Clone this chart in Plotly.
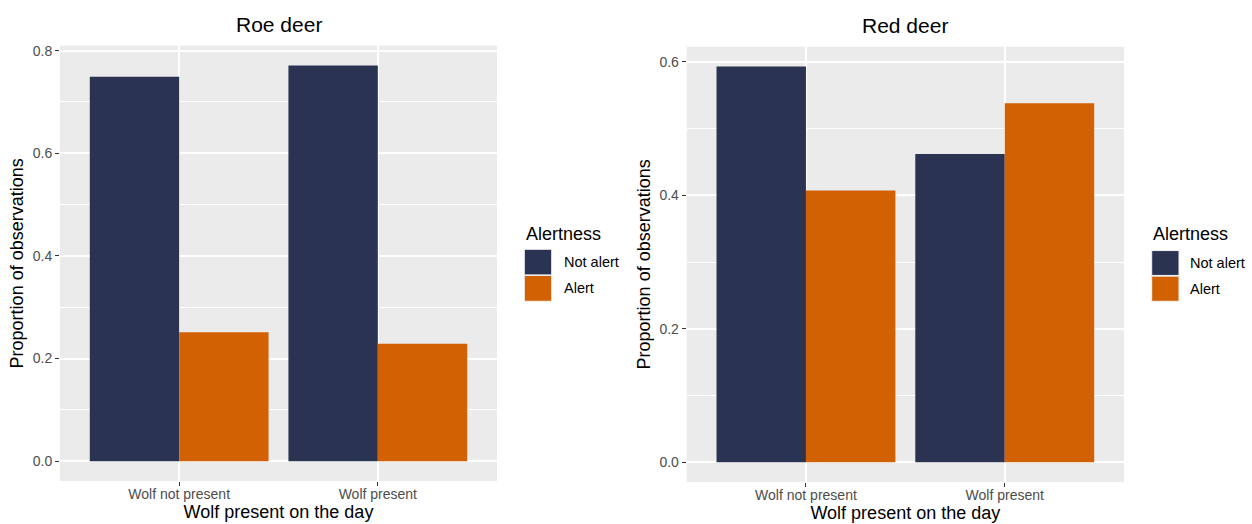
import plotly.graph_objects as go

# ---- data ----
categories = ["Wolf not present", "Wolf present"]
series_names = ["Not alert", "Alert"]
roe_not_alert = [0.749, 0.771]
roe_alert = [0.251, 0.229]
red_not_alert = [0.593, 0.462]
red_alert = [0.407, 0.538]
panel_titles = ["Roe deer", "Red deer"]
y_ticks_roe = [0.0, 0.2, 0.4, 0.6, 0.8]
y_ticks_red = [0.0, 0.2, 0.4, 0.6]

# ---- style ----
W, H = 1252, 524
NAVY = "#2A3352"
ORANGE = "#D16103"
colors = [NAVY, ORANGE]
FONT = "Liberation Sans, Arial, Helvetica, sans-serif"
TICK_COL = "#4D4D4D"


def px_x(p):
    return p / W


def px_y(p):
    return 1 - p / H


fig = go.Figure()

panels = [
    dict(vals=[roe_not_alert, roe_alert], xa="x", ya="y", ticks=y_ticks_roe),
    dict(vals=[red_not_alert, red_alert], xa="x2", ya="y2", ticks=y_ticks_red),
]
for pan in panels:
    for name, vals, col in zip(series_names, pan["vals"], colors):
        fig.add_trace(go.Bar(
            x=categories, y=vals, name=name, marker=dict(color=col, line=dict(width=0)),
            xaxis=pan["xa"], yaxis=pan["ya"], showlegend=False,
        ))

def yrange(vals):
    m = max(max(v) for v in vals)
    return [-0.05 * m, 1.05 * m]

# panel geometry in pixels (left, right, top, bottom)
geo = [(60, 497, 43, 480.7), (686.7, 1124, 44, 481.7)]

common_x = dict(
    type="category", categoryorder="array", categoryarray=categories,
    range=[-0.6, 1.6], showgrid=True, gridcolor="white", gridwidth=1.6,
    ticks="outside", ticklen=4, tickwidth=1, tickcolor="#333333",
    tickfont=dict(family=FONT, size=14, color=TICK_COL), ticklabelstandoff=-4,
    showline=False, zeroline=False,
    title=dict(text="Wolf present on the day", font=dict(family=FONT, size=18, color="black"), standoff=0),
)
common_y = dict(
    showgrid=True, gridcolor="white", gridwidth=1.6,
    minor=dict(dtick=0.1, tick0=0, showgrid=True, gridcolor="white", gridwidth=0.8, ticks=""),
    dtick=0.2, tick0=0, tickformat=".1f",
    ticks="outside", ticklen=4, tickwidth=1, tickcolor="#333333",
    tickfont=dict(family=FONT, size=14, color=TICK_COL),
    showline=False, zeroline=False,
    title=dict(text="Proportion of observations", font=dict(family=FONT, size=18, color="black"), standoff=4),
)

(l1, r1, t1, b1), (l2, r2, t2, b2) = geo
fig.update_layout(
    xaxis=dict(common_x, domain=[px_x(l1), px_x(r1)], anchor="y"),
    yaxis=dict(common_y, domain=[px_y(b1), px_y(t1)], anchor="x", range=yrange(panels[0]["vals"]),
               tickvals=y_ticks_roe),
    xaxis2=dict(common_x, domain=[px_x(l2), px_x(r2)], anchor="y2"),
    yaxis2=dict(common_y, domain=[px_y(b2), px_y(t2)], anchor="x2", range=yrange(panels[1]["vals"]),
                tickvals=y_ticks_red),
    barmode="group", bargap=0.1, bargroupgap=0.0,
    plot_bgcolor="#EBEBEB", paper_bgcolor="white",
    width=W, height=H, autosize=False,
    margin=dict(l=0, r=0, t=0, b=0),
    showlegend=False,
    font=dict(family=FONT),
)

# panel titles
for (l, r, t, b), title, ty in zip(geo, panel_titles, [22, 23]):
    fig.add_annotation(
        text=title, x=px_x((l + r) / 2), y=px_y(ty), xref="paper", yref="paper",
        xanchor="center", yanchor="middle", showarrow=False,
        font=dict(family=FONT, size=21, color="black"),
    )

# legends (ggplot style: title + square keys)
legend_pos = [(523.5, 232, 524.3, 551.7, [(247.7, 273.5), (274, 300)], 561.7),
              (1150.7, 232, 1151.7, 1179, [(249, 274), (274.7, 300)], 1188)]
for tx, ty, kx0, kx1, keys, lx in legend_pos:
    fig.add_annotation(
        text="Alertness", x=px_x(tx), y=px_y(ty), xref="paper", yref="paper",
        xanchor="left", yanchor="middle", showarrow=False,
        font=dict(family=FONT, size=18, color="black"),
    )
    for (ky0, ky1), name, col in zip(keys, series_names, colors):
        fig.add_shape(type="rect", xref="paper", yref="paper",
                      x0=px_x(kx0), x1=px_x(kx1), y0=px_y(ky1), y1=px_y(ky0),
                      fillcolor=col, line=dict(width=1, color="#F2F2F2"))
        fig.add_annotation(
            text=name, x=px_x(lx), y=px_y((ky0 + ky1) / 2), xref="paper", yref="paper",
            xanchor="left", yanchor="middle", showarrow=False,
            font=dict(family=FONT, size=14.5, color="black"),
        )

fig.write_html("out.html", config={"displayModeBar": False},
               post_script="document.body.style.margin='0';document.body.style.padding='0';")
